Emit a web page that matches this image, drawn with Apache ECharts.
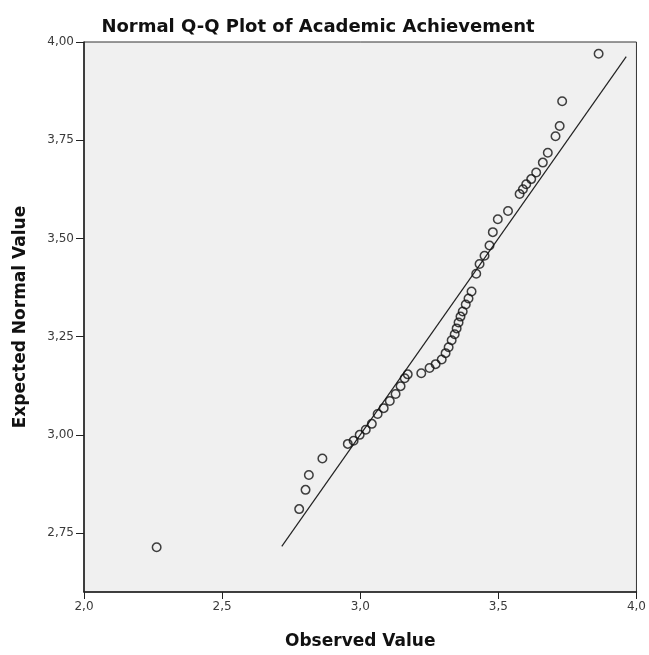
<!DOCTYPE html>
<html>
<head>
<meta charset="utf-8">
<script src="https://cdn.jsdelivr.net/npm/echarts@6/dist/echarts.min.js"></script>
<style>
  html, body { margin: 0; padding: 0; background: #ffffff; }
  #chart { width: 649px; height: 655px; }
</style>
</head>
<body>
<div id="chart"></div>
<script>
// ---- Data ----
const chartTitle = 'Normal Q-Q Plot of Academic Achievement';
const xAxisName = 'Observed Value';
const yAxisName = 'Expected Normal Value';

const observedValues = [
  2.263, 2.779, 2.802, 2.814, 2.863, 2.955, 2.976, 2.998, 3.020, 3.042,
  3.063, 3.085, 3.107, 3.128, 3.146, 3.161, 3.172, 3.221, 3.251, 3.273,
  3.295, 3.309, 3.320, 3.331, 3.342, 3.349, 3.356, 3.363, 3.371, 3.382,
  3.392, 3.403, 3.420, 3.432, 3.450, 3.468, 3.480, 3.498, 3.535, 3.577,
  3.589, 3.601, 3.619, 3.637, 3.661, 3.679, 3.707, 3.722, 3.731, 3.863
];
const expectedValues = [
  2.714, 2.811, 2.860, 2.898, 2.940, 2.977, 2.985, 3.000, 3.013, 3.028,
  3.053, 3.068, 3.086, 3.104, 3.124, 3.144, 3.154, 3.157, 3.170, 3.180,
  3.192, 3.208, 3.223, 3.241, 3.256, 3.271, 3.286, 3.301, 3.314, 3.332,
  3.347, 3.365, 3.410, 3.435, 3.456, 3.482, 3.516, 3.549, 3.570, 3.613,
  3.625, 3.638, 3.651, 3.668, 3.693, 3.718, 3.760, 3.786, 3.849, 3.970
];
// reference line (expected = observed)
const refLineX = [2.716, 3.963];
const refLineY = [2.716, 3.963];

const xTicks = [2.0, 2.5, 3.0, 3.5, 4.0];
const yTicks = [2.75, 3.00, 3.25, 3.50, 3.75, 4.00];

// ---- Chart ----
const points = observedValues.map((v, i) => [v, expectedValues[i]]);
const linePts = refLineX.map((v, i) => [v, refLineY[i]]);

const chart = echarts.init(document.getElementById('chart'));
const labelFont = { fontFamily: 'DejaVu Sans', fontSize: 12, color: '#3a3a3a' };

chart.setOption({
  animation: false,
  backgroundColor: '#ffffff',
  title: {
    text: chartTitle,
    left: 313,
    textAlign: 'center',
    top: 13,
    textStyle: { fontFamily: 'DejaVu Sans', fontWeight: 'bold', fontSize: 18, color: '#111111' }
  },
  grid: {
    left: 84, right: 12, top: 42, bottom: 62,
    show: true,
    backgroundColor: '#f0f0f0',
    borderColor: '#333333',
    borderWidth: 1
  },
  xAxis: {
    type: 'value',
    min: 2.0, max: 4.0, interval: 0.5,
    name: xAxisName,
    nameLocation: 'middle',
    nameGap: 41,
    nameTextStyle: { fontFamily: 'DejaVu Sans', fontWeight: 'bold', fontSize: 17, color: '#111111' },
    axisLine: { show: true, onZero: false, lineStyle: { color: '#222222', width: 1.5 } },
    axisTick: { show: true, length: 7, lineStyle: { color: '#222222' }, customValues: xTicks },
    axisLabel: {
      ...labelFont, margin: 9,
      customValues: xTicks,
      formatter: v => v.toFixed(1).replace('.', ',')
    },
    splitLine: { show: false }
  },
  yAxis: {
    type: 'value',
    min: 2.6, max: 4.0,
    name: yAxisName,
    nameLocation: 'middle',
    nameGap: 55,
    nameTextStyle: { fontFamily: 'DejaVu Sans', fontWeight: 'bold', fontSize: 17, color: '#111111' },
    axisLine: { show: true, onZero: false, lineStyle: { color: '#222222', width: 1.5 } },
    axisTick: { show: true, length: 8, lineStyle: { color: '#222222' }, customValues: yTicks },
    axisLabel: {
      ...labelFont, margin: 10,
      customValues: yTicks,
      formatter: v => v.toFixed(2).replace('.', ',')
    },
    splitLine: { show: false }
  },
  series: [
    {
      type: 'line',
      data: linePts,
      symbol: 'none',
      lineStyle: { color: '#222222', width: 1.2 },
      silent: true,
      z: 2
    },
    {
      type: 'scatter',
      data: points,
      symbol: 'circle',
      symbolSize: 8.5,
      itemStyle: { color: 'rgba(0,0,0,0)', borderColor: '#111111', borderWidth: 1.5 },
      z: 3
    }
  ]
});
</script>
</body>
</html>
